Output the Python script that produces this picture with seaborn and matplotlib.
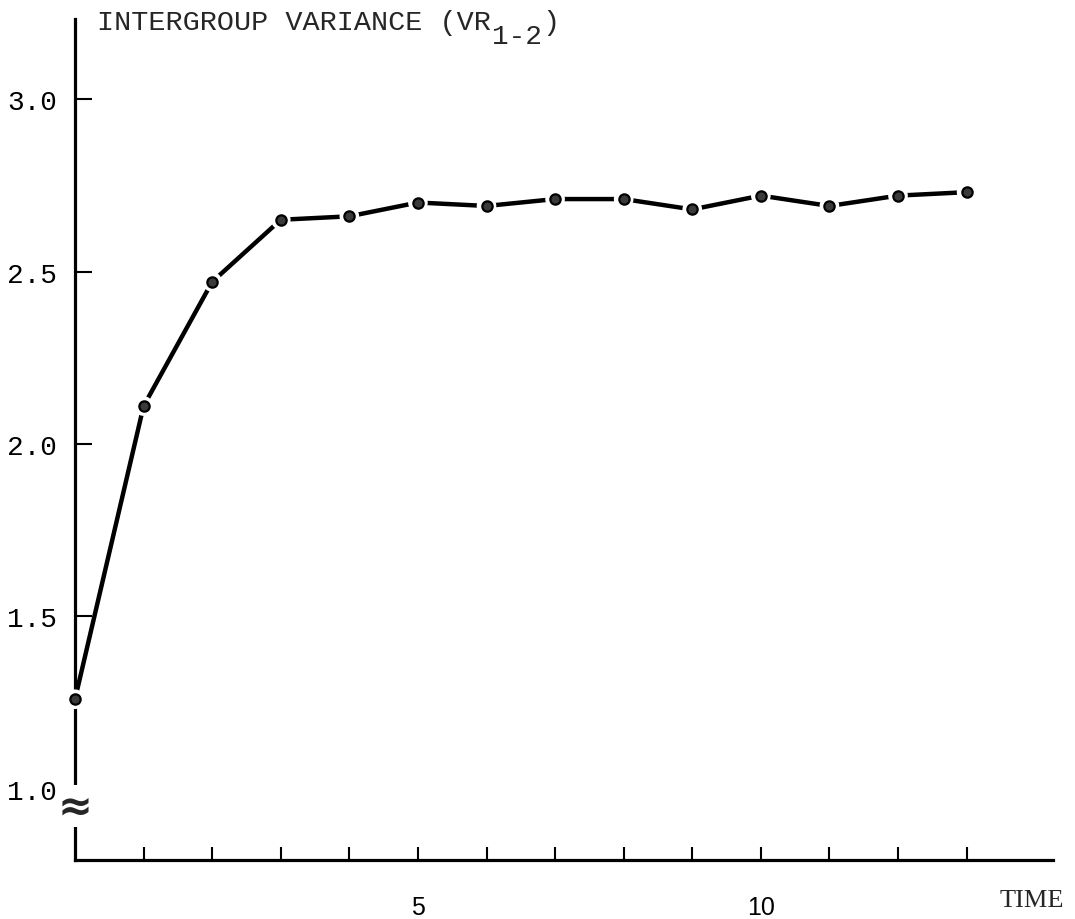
import numpy as np
import pandas as pd
import seaborn as sns
import matplotlib
matplotlib.use('Agg')
import matplotlib.pyplot as plt

# values
time = [0, 1, 2, 3, 4, 5, 6, 7, 8, 9, 10, 11, 12, 13]
variance = [1.26, 2.11, 2.47, 2.65, 2.66, 2.70, 2.69, 2.71, 2.71, 2.68, 2.72, 2.69, 2.72, 2.73]
y_ticks = [1.0, 1.5, 2.0, 2.5, 3.0]
x_ticks = list(range(1, 14))
x_labels = {5: '5', 10: '10'}

df = pd.DataFrame({'time': time, 'variance': variance})

sns.set_theme(style='white')
plt.rcParams['font.family'] = ['Liberation Mono', 'DejaVu Sans']

fig = plt.figure(figsize=(10.75, 9.2), dpi=100)
ax = fig.add_axes([75 / 1075, 59 / 920, 978 / 1075, 841 / 920])

sns.lineplot(data=df, x='time', y='variance', ax=ax, color='black', linewidth=3.2, zorder=2)
# white halo gives the small gaps around each point
sns.scatterplot(data=df, x='time', y='variance', ax=ax, s=200, color='white',
                edgecolor='none', zorder=3)
sns.scatterplot(data=df, x='time', y='variance', ax=ax, s=55, color='#3a3a3a',
                edgecolor='black', linewidth=1.6, zorder=4)
for coll in ax.collections:
    coll.set_clip_on(False)

ax.set_xlim(0, 14.26)
ax.set_ylim(0.794, 3.232)
sns.despine(ax=ax)
for side in ['left', 'bottom']:
    ax.spines[side].set_linewidth(2.3)
    ax.spines[side].set_color('black')

ax.set_yticks(y_ticks)
ax.set_yticklabels(['%.1f' % v for v in y_ticks], fontsize=20, family='Liberation Mono')
ax.set_xticks(x_ticks)
ax.set_xticklabels([x_labels.get(t, '') for t in x_ticks], fontsize=18, family='Liberation Sans')
ax.tick_params(axis='y', direction='in', length=12, width=1.5, pad=13, colors='black', left=True)
ax.tick_params(axis='x', direction='in', length=9.5, width=1.5, pad=25, colors='black', bottom=True)
ax.set_xlabel('')
ax.set_ylabel('')

# axis break mark
ax.text(0, 0.95, '\u2248', ha='center', va='center', fontsize=30, fontweight='bold',
        family='DejaVu Sans', bbox=dict(facecolor='white', edgecolor='none', pad=0),
        clip_on=False, zorder=5)

t1 = fig.text(97 / 1075, 1 - 30 / 920, 'INTERGROUP VARIANCE (VR', fontsize=20.5,
              family='Liberation Mono', va='baseline', ha='left')
t2 = ax.annotate('1-2', xy=(1, 0), xycoords=t1, xytext=(1, -6), textcoords='offset points',
                 fontsize=20, family='Liberation Mono', va='baseline', ha='left')
ax.annotate(')', xy=(1, 0), xycoords=(t2, t1), fontsize=20.5, family='Liberation Mono',
            va='bottom', ha='left')

fig.text(1000 / 1075, 1 - 901 / 920, 'TIME', fontsize=19, family='Liberation Serif',
         va='center', ha='left')

plt.savefig('out.png', dpi=100)
